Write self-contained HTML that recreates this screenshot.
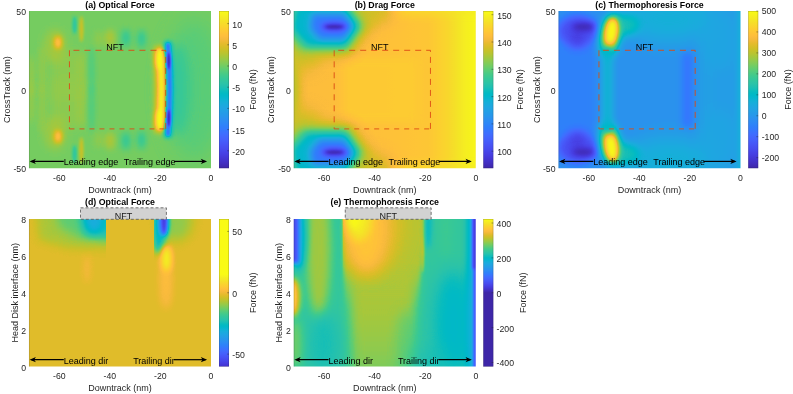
<!DOCTYPE html>
<html><head><meta charset="utf-8"><title>Forces</title>
<style>html,body{margin:0;padding:0;background:#fff;}body{width:793px;height:394px;overflow:hidden;font-family:"Liberation Sans",sans-serif;}</style>
</head><body>
<svg width="793" height="394" viewBox="0 0 793 394" style="display:block">
<defs>
<linearGradient id="cbfull" x1="0" y1="0" x2="0" y2="1">
<stop offset="0.0000" stop-color="#f9fb15"/>
<stop offset="0.0159" stop-color="#f7f51b"/>
<stop offset="0.0317" stop-color="#f6ef20"/>
<stop offset="0.0476" stop-color="#f5e924"/>
<stop offset="0.0635" stop-color="#f5e327"/>
<stop offset="0.0794" stop-color="#f7dc2a"/>
<stop offset="0.0952" stop-color="#fad62d"/>
<stop offset="0.1111" stop-color="#fccf30"/>
<stop offset="0.1270" stop-color="#fec934"/>
<stop offset="0.1429" stop-color="#fec338"/>
<stop offset="0.1587" stop-color="#febe3c"/>
<stop offset="0.1746" stop-color="#f8ba3d"/>
<stop offset="0.1905" stop-color="#f0ba36"/>
<stop offset="0.2063" stop-color="#e6bb2d"/>
<stop offset="0.2222" stop-color="#dcbd29"/>
<stop offset="0.2381" stop-color="#d1bf27"/>
<stop offset="0.2540" stop-color="#c5c22a"/>
<stop offset="0.2698" stop-color="#b9c431"/>
<stop offset="0.2857" stop-color="#abc739"/>
<stop offset="0.3016" stop-color="#9dc943"/>
<stop offset="0.3175" stop-color="#8fcb4e"/>
<stop offset="0.3333" stop-color="#81cc59"/>
<stop offset="0.3492" stop-color="#72cd64"/>
<stop offset="0.3651" stop-color="#64cd6f"/>
<stop offset="0.3810" stop-color="#57cc7a"/>
<stop offset="0.3968" stop-color="#4acb84"/>
<stop offset="0.4127" stop-color="#3fca8e"/>
<stop offset="0.4286" stop-color="#37c897"/>
<stop offset="0.4444" stop-color="#31c69f"/>
<stop offset="0.4603" stop-color="#2cc4a7"/>
<stop offset="0.4762" stop-color="#24c1ae"/>
<stop offset="0.4921" stop-color="#19bfb6"/>
<stop offset="0.5079" stop-color="#0bbdbd"/>
<stop offset="0.5238" stop-color="#02bac3"/>
<stop offset="0.5397" stop-color="#01b8ca"/>
<stop offset="0.5556" stop-color="#08b5d0"/>
<stop offset="0.5714" stop-color="#12b1d6"/>
<stop offset="0.5873" stop-color="#18addb"/>
<stop offset="0.6032" stop-color="#1ca9df"/>
<stop offset="0.6190" stop-color="#20a5e3"/>
<stop offset="0.6349" stop-color="#23a0e5"/>
<stop offset="0.6508" stop-color="#259be8"/>
<stop offset="0.6667" stop-color="#2797eb"/>
<stop offset="0.6825" stop-color="#2b91ef"/>
<stop offset="0.6984" stop-color="#2d8cf3"/>
<stop offset="0.7143" stop-color="#2e87f7"/>
<stop offset="0.7302" stop-color="#2f81fa"/>
<stop offset="0.7460" stop-color="#327cfc"/>
<stop offset="0.7619" stop-color="#3875fe"/>
<stop offset="0.7778" stop-color="#3e6fff"/>
<stop offset="0.7937" stop-color="#4269fe"/>
<stop offset="0.8095" stop-color="#4563fd"/>
<stop offset="0.8254" stop-color="#465efb"/>
<stop offset="0.8413" stop-color="#4758f8"/>
<stop offset="0.8571" stop-color="#4852f4"/>
<stop offset="0.8730" stop-color="#484df0"/>
<stop offset="0.8889" stop-color="#4747eb"/>
<stop offset="0.9048" stop-color="#4741e5"/>
<stop offset="0.9206" stop-color="#463cde"/>
<stop offset="0.9365" stop-color="#4537d5"/>
<stop offset="0.9524" stop-color="#4332cb"/>
<stop offset="0.9683" stop-color="#422ec0"/>
<stop offset="0.9841" stop-color="#402ab4"/>
<stop offset="1.0000" stop-color="#3e26a8"/>
</linearGradient>
<linearGradient id="cbd" x1="0" y1="0" x2="0" y2="1">
<stop offset="0.0000" stop-color="#f9fb15"/>
<stop offset="0.0125" stop-color="#f9fb15"/>
<stop offset="0.0250" stop-color="#f9fb15"/>
<stop offset="0.0375" stop-color="#f9fb15"/>
<stop offset="0.0500" stop-color="#f9fb15"/>
<stop offset="0.0625" stop-color="#f9fb15"/>
<stop offset="0.0750" stop-color="#f9fb15"/>
<stop offset="0.0875" stop-color="#f9fb15"/>
<stop offset="0.1000" stop-color="#f9fb15"/>
<stop offset="0.1125" stop-color="#f9fb15"/>
<stop offset="0.1250" stop-color="#f9fb15"/>
<stop offset="0.1375" stop-color="#f9fb15"/>
<stop offset="0.1500" stop-color="#f9fb15"/>
<stop offset="0.1625" stop-color="#f9fb15"/>
<stop offset="0.1750" stop-color="#f9fb15"/>
<stop offset="0.1875" stop-color="#f9fb15"/>
<stop offset="0.2000" stop-color="#f9fb15"/>
<stop offset="0.2125" stop-color="#f9fb15"/>
<stop offset="0.2250" stop-color="#f9fb15"/>
<stop offset="0.2375" stop-color="#f9fb15"/>
<stop offset="0.2500" stop-color="#f9fb15"/>
<stop offset="0.2625" stop-color="#f9fb15"/>
<stop offset="0.2750" stop-color="#f9fb15"/>
<stop offset="0.2875" stop-color="#f9fb15"/>
<stop offset="0.3000" stop-color="#f9fb15"/>
<stop offset="0.3125" stop-color="#f9fb15"/>
<stop offset="0.3250" stop-color="#f9fb15"/>
<stop offset="0.3375" stop-color="#f9fb15"/>
<stop offset="0.3500" stop-color="#f9fb15"/>
<stop offset="0.3625" stop-color="#f9fb15"/>
<stop offset="0.3750" stop-color="#f9fb15"/>
<stop offset="0.3875" stop-color="#f7f41c"/>
<stop offset="0.4000" stop-color="#f5ed21"/>
<stop offset="0.4125" stop-color="#f5e626"/>
<stop offset="0.4250" stop-color="#f6de29"/>
<stop offset="0.4375" stop-color="#f9d62d"/>
<stop offset="0.4500" stop-color="#fccf30"/>
<stop offset="0.4625" stop-color="#fec835"/>
<stop offset="0.4750" stop-color="#fec03a"/>
<stop offset="0.4875" stop-color="#fabb3d"/>
<stop offset="0.5000" stop-color="#f0ba36"/>
<stop offset="0.5125" stop-color="#e5bb2d"/>
<stop offset="0.5250" stop-color="#d9be28"/>
<stop offset="0.5375" stop-color="#cbc029"/>
<stop offset="0.5500" stop-color="#bdc42f"/>
<stop offset="0.5625" stop-color="#adc638"/>
<stop offset="0.5750" stop-color="#9cc944"/>
<stop offset="0.5875" stop-color="#8bcb51"/>
<stop offset="0.6000" stop-color="#79cc5e"/>
<stop offset="0.6125" stop-color="#68cd6b"/>
<stop offset="0.6250" stop-color="#58cc79"/>
<stop offset="0.6375" stop-color="#49cb85"/>
<stop offset="0.6500" stop-color="#3dc991"/>
<stop offset="0.6625" stop-color="#34c79b"/>
<stop offset="0.6750" stop-color="#2ec4a5"/>
<stop offset="0.6875" stop-color="#25c2ae"/>
<stop offset="0.7000" stop-color="#18bfb6"/>
<stop offset="0.7125" stop-color="#08bcbe"/>
<stop offset="0.7250" stop-color="#01b9c6"/>
<stop offset="0.7375" stop-color="#05b6ce"/>
<stop offset="0.7500" stop-color="#10b2d5"/>
<stop offset="0.7625" stop-color="#19addc"/>
<stop offset="0.7750" stop-color="#1da8e0"/>
<stop offset="0.7875" stop-color="#21a3e4"/>
<stop offset="0.8000" stop-color="#259de7"/>
<stop offset="0.8125" stop-color="#2797eb"/>
<stop offset="0.8250" stop-color="#2b91ef"/>
<stop offset="0.8375" stop-color="#2d8bf4"/>
<stop offset="0.8500" stop-color="#2e84f8"/>
<stop offset="0.8625" stop-color="#317efb"/>
<stop offset="0.8750" stop-color="#3776fe"/>
<stop offset="0.8875" stop-color="#3e6fff"/>
<stop offset="0.9000" stop-color="#4368fd"/>
<stop offset="0.9125" stop-color="#4661fc"/>
<stop offset="0.9250" stop-color="#475af9"/>
<stop offset="0.9375" stop-color="#4853f5"/>
<stop offset="0.9500" stop-color="#484cf0"/>
<stop offset="0.9625" stop-color="#4746ea"/>
<stop offset="0.9750" stop-color="#473fe2"/>
<stop offset="0.9875" stop-color="#4538d8"/>
<stop offset="1.0000" stop-color="#4433cc"/>
</linearGradient>
<linearGradient id="cbe" x1="0" y1="0" x2="0" y2="1">
<stop offset="0.0000" stop-color="#f9fb15"/>
<stop offset="0.0125" stop-color="#f6f21e"/>
<stop offset="0.0250" stop-color="#f5e825"/>
<stop offset="0.0375" stop-color="#f6de29"/>
<stop offset="0.0500" stop-color="#fad42e"/>
<stop offset="0.0625" stop-color="#feca33"/>
<stop offset="0.0750" stop-color="#fec13a"/>
<stop offset="0.0875" stop-color="#f8ba3d"/>
<stop offset="0.1000" stop-color="#eaba31"/>
<stop offset="0.1125" stop-color="#dabd28"/>
<stop offset="0.1250" stop-color="#c8c129"/>
<stop offset="0.1375" stop-color="#b4c533"/>
<stop offset="0.1500" stop-color="#9fc942"/>
<stop offset="0.1625" stop-color="#88cb53"/>
<stop offset="0.1750" stop-color="#71cd64"/>
<stop offset="0.1875" stop-color="#5ccc76"/>
<stop offset="0.2000" stop-color="#48cb86"/>
<stop offset="0.2125" stop-color="#39c895"/>
<stop offset="0.2250" stop-color="#2fc5a2"/>
<stop offset="0.2375" stop-color="#24c2ae"/>
<stop offset="0.2500" stop-color="#12beb9"/>
<stop offset="0.2625" stop-color="#02bac4"/>
<stop offset="0.2750" stop-color="#05b6ce"/>
<stop offset="0.2875" stop-color="#13b0d7"/>
<stop offset="0.3000" stop-color="#1caadf"/>
<stop offset="0.3125" stop-color="#21a3e3"/>
<stop offset="0.3250" stop-color="#259ce7"/>
<stop offset="0.3375" stop-color="#2994ed"/>
<stop offset="0.3500" stop-color="#2d8cf3"/>
<stop offset="0.3625" stop-color="#2e83f9"/>
<stop offset="0.3750" stop-color="#347afd"/>
<stop offset="0.3875" stop-color="#3d70ff"/>
<stop offset="0.4000" stop-color="#4367fd"/>
<stop offset="0.4125" stop-color="#465efb"/>
<stop offset="0.4250" stop-color="#4755f6"/>
<stop offset="0.4375" stop-color="#484cef"/>
<stop offset="0.4500" stop-color="#4743e7"/>
<stop offset="0.4625" stop-color="#463adc"/>
<stop offset="0.4750" stop-color="#4433cc"/>
<stop offset="0.4875" stop-color="#412dbb"/>
<stop offset="0.5000" stop-color="#3e26a8"/>
<stop offset="0.5125" stop-color="#3e26a8"/>
<stop offset="0.5250" stop-color="#3e26a8"/>
<stop offset="0.5375" stop-color="#3e26a8"/>
<stop offset="0.5500" stop-color="#3e26a8"/>
<stop offset="0.5625" stop-color="#3e26a8"/>
<stop offset="0.5750" stop-color="#3e26a8"/>
<stop offset="0.5875" stop-color="#3e26a8"/>
<stop offset="0.6000" stop-color="#3e26a8"/>
<stop offset="0.6125" stop-color="#3e26a8"/>
<stop offset="0.6250" stop-color="#3e26a8"/>
<stop offset="0.6375" stop-color="#3e26a8"/>
<stop offset="0.6500" stop-color="#3e26a8"/>
<stop offset="0.6625" stop-color="#3e26a8"/>
<stop offset="0.6750" stop-color="#3e26a8"/>
<stop offset="0.6875" stop-color="#3e26a8"/>
<stop offset="0.7000" stop-color="#3e26a8"/>
<stop offset="0.7125" stop-color="#3e26a8"/>
<stop offset="0.7250" stop-color="#3e26a8"/>
<stop offset="0.7375" stop-color="#3e26a8"/>
<stop offset="0.7500" stop-color="#3e26a8"/>
<stop offset="0.7625" stop-color="#3e26a8"/>
<stop offset="0.7750" stop-color="#3e26a8"/>
<stop offset="0.7875" stop-color="#3e26a8"/>
<stop offset="0.8000" stop-color="#3e26a8"/>
<stop offset="0.8125" stop-color="#3e26a8"/>
<stop offset="0.8250" stop-color="#3e26a8"/>
<stop offset="0.8375" stop-color="#3e26a8"/>
<stop offset="0.8500" stop-color="#3e26a8"/>
<stop offset="0.8625" stop-color="#3e26a8"/>
<stop offset="0.8750" stop-color="#3e26a8"/>
<stop offset="0.8875" stop-color="#3e26a8"/>
<stop offset="0.9000" stop-color="#3e26a8"/>
<stop offset="0.9125" stop-color="#3e26a8"/>
<stop offset="0.9250" stop-color="#3e26a8"/>
<stop offset="0.9375" stop-color="#3e26a8"/>
<stop offset="0.9500" stop-color="#3e26a8"/>
<stop offset="0.9625" stop-color="#3e26a8"/>
<stop offset="0.9750" stop-color="#3e26a8"/>
<stop offset="0.9875" stop-color="#3e26a8"/>
<stop offset="1.0000" stop-color="#3e26a8"/>
</linearGradient>
</defs>
<rect width="793" height="394" fill="#fff"/>
<g opacity="0.999">
<filter id="cma" filterUnits="userSpaceOnUse" x="28" y="10" width="185" height="161" color-interpolation-filters="sRGB"><feComponentTransfer><feFuncR type="table" tableValues="0.2422 0.2504 0.2578 0.2647 0.2706 0.2751 0.2783 0.2803 0.2813 0.2810 0.2795 0.2760 0.2699 0.2602 0.2440 0.2206 0.1963 0.1834 0.1786 0.1764 0.1687 0.1540 0.1460 0.1380 0.1248 0.1113 0.0952 0.0689 0.0297 0.0036 0.0067 0.0433 0.0964 0.1408 0.1717 0.1938 0.2161 0.2470 0.2906 0.3406 0.3909 0.4456 0.5044 0.5616 0.6174 0.6720 0.7242 0.7738 0.8203 0.8634 0.9035 0.9393 0.9728 0.9956 0.9970 0.9952 0.9892 0.9786 0.9676 0.9610 0.9597 0.9628 0.9691 0.9769"/><feFuncG type="table" tableValues="0.1504 0.1650 0.1818 0.1978 0.2147 0.2342 0.2559 0.2782 0.3006 0.3228 0.3447 0.3667 0.3892 0.4123 0.4358 0.4603 0.4847 0.5074 0.5289 0.5499 0.5703 0.5902 0.6091 0.6276 0.6459 0.6635 0.6798 0.6948 0.7082 0.7203 0.7312 0.7411 0.7500 0.7584 0.7670 0.7758 0.7843 0.7918 0.7973 0.8008 0.8029 0.8024 0.7993 0.7942 0.7876 0.7793 0.7698 0.7598 0.7498 0.7406 0.7330 0.7288 0.7298 0.7434 0.7659 0.7893 0.8136 0.8386 0.8639 0.8890 0.9135 0.9373 0.9606 0.9839"/><feFuncB type="table" tableValues="0.6603 0.7076 0.7511 0.7952 0.8364 0.8710 0.8991 0.9221 0.9414 0.9579 0.9717 0.9829 0.9906 0.9952 0.9988 0.9973 0.9892 0.9798 0.9682 0.9520 0.9359 0.9218 0.9079 0.8973 0.8883 0.8763 0.8598 0.8394 0.8163 0.7917 0.7660 0.7394 0.7120 0.6842 0.6554 0.6251 0.5923 0.5567 0.5188 0.4789 0.4354 0.3909 0.3480 0.3045 0.2612 0.2227 0.1910 0.1646 0.1535 0.1596 0.1774 0.2100 0.2394 0.2371 0.2199 0.2028 0.1885 0.1766 0.1643 0.1537 0.1423 0.1265 0.1064 0.0805"/></feComponentTransfer></filter>
<clipPath id="cpa"><rect x="29" y="11" width="182" height="157.2"/></clipPath>
<g clip-path="url(#cpa)"><g filter="url(#cma)">
<g transform="translate(29 11)">
<rect x="-20" y="-20" width="230" height="200" fill="#a7a7a7"/><ellipse cx="2.5" cy="66" rx="2" ry="22" fill="#bababa" filter="url(#b2_5)" opacity="0.6"/><ellipse cx="13" cy="60" rx="2.5" ry="26" fill="#bababa" filter="url(#b3)" opacity="0.6"/><rect x="22" y="40" width="34" height="50" fill="#b0b0b0" filter="url(#b4)" opacity="0.7"/><ellipse cx="26" cy="35" rx="11" ry="17" fill="#b8b8b8" filter="url(#b5)" opacity="0.7"/><ellipse cx="29" cy="31.5" rx="3.2" ry="6.5" fill="#ededed" filter="url(#b2_5)" opacity="0.85"/><ellipse cx="45.6" cy="14" rx="1.8" ry="9" fill="#808080" filter="url(#b1_8)" opacity="0.8"/><ellipse cx="52.4" cy="18" rx="1.8" ry="13" fill="#cccccc" filter="url(#b1_8)" opacity="0.8"/><ellipse cx="52" cy="62" rx="4" ry="20" fill="#b8b8b8" filter="url(#b3)" opacity="0.4"/><ellipse cx="62.5" cy="60" rx="3" ry="24" fill="#969696" filter="url(#b2_5)" opacity="0.7"/><ellipse cx="70" cy="28" rx="4" ry="8" fill="#b8b8b8" filter="url(#b3)" opacity="0.5"/><ellipse cx="81" cy="27" rx="4.5" ry="9" fill="#c2c2c2" filter="url(#b3)" opacity="0.65"/><ellipse cx="97" cy="27" rx="4" ry="9" fill="#858585" filter="url(#b3)" opacity="0.7"/><ellipse cx="112.5" cy="28" rx="4" ry="9" fill="#858585" filter="url(#b3)" opacity="0.7"/><g transform="translate(0 157) scale(1 -1)"><ellipse cx="2.5" cy="66" rx="2" ry="22" fill="#bababa" filter="url(#b2_5)" opacity="0.6"/><ellipse cx="13" cy="60" rx="2.5" ry="26" fill="#bababa" filter="url(#b3)" opacity="0.6"/><rect x="22" y="40" width="34" height="50" fill="#b0b0b0" filter="url(#b4)" opacity="0.7"/><ellipse cx="26" cy="35" rx="11" ry="17" fill="#b8b8b8" filter="url(#b5)" opacity="0.7"/><ellipse cx="29" cy="31.5" rx="3.2" ry="6.5" fill="#ededed" filter="url(#b2_5)" opacity="0.85"/><ellipse cx="45.6" cy="14" rx="1.8" ry="9" fill="#808080" filter="url(#b1_8)" opacity="0.8"/><ellipse cx="52.4" cy="18" rx="1.8" ry="13" fill="#cccccc" filter="url(#b1_8)" opacity="0.8"/><ellipse cx="52" cy="62" rx="4" ry="20" fill="#b8b8b8" filter="url(#b3)" opacity="0.4"/><ellipse cx="62.5" cy="60" rx="3" ry="24" fill="#969696" filter="url(#b2_5)" opacity="0.7"/><ellipse cx="70" cy="28" rx="4" ry="8" fill="#b8b8b8" filter="url(#b3)" opacity="0.5"/><ellipse cx="81" cy="27" rx="4.5" ry="9" fill="#c2c2c2" filter="url(#b3)" opacity="0.65"/><ellipse cx="97" cy="27" rx="4" ry="9" fill="#858585" filter="url(#b3)" opacity="0.7"/><ellipse cx="112.5" cy="28" rx="4" ry="9" fill="#858585" filter="url(#b3)" opacity="0.7"/></g><ellipse cx="165" cy="78.5" rx="28" ry="70" fill="#999999" filter="url(#b10)" opacity="0.6"/><ellipse cx="149" cy="78.5" rx="10" ry="46" fill="#878787" filter="url(#b6)" opacity="0.6"/><path d="M131 41 Q135 78.5 131 116" fill="none" stroke="#f2f2f2" stroke-width="10" stroke-linecap="round" filter="url(#b3)" opacity="0.9"/><path d="M131 41 Q135 78.5 131 116" fill="none" stroke="#f7f7f7" stroke-width="5" stroke-linecap="round" filter="url(#b1_5)"/><ellipse cx="131.3" cy="50" rx="3.8" ry="9" fill="#ffffff" filter="url(#b2)" opacity="0.95"/><ellipse cx="131.3" cy="107" rx="3.8" ry="9" fill="#ffffff" filter="url(#b2)" opacity="0.95"/><path d="M139 34 Q142.5 78.5 139 123" fill="none" stroke="#616161" stroke-width="7" stroke-linecap="round" filter="url(#b2)" opacity="0.9"/><path d="M139 34 Q142.5 78.5 139 123" fill="none" stroke="#3d3d3d" stroke-width="3.6" stroke-linecap="round" filter="url(#b1_2)"/><ellipse cx="139.8" cy="50" rx="1.7" ry="9" fill="#000000" filter="url(#b1_2)"/><ellipse cx="139.8" cy="107" rx="1.7" ry="9" fill="#000000" filter="url(#b1_2)"/>
</g></g></g>
<path d="M29.4 11V168.2" fill="none" stroke="#262626" stroke-width="0.6" stroke-opacity="0.3"/>
<rect x="219" y="11" width="10" height="157.2" fill="url(#cbfull)"/>
<rect x="219.25" y="11.25" width="9.5" height="156.7" fill="none" stroke="#262626" stroke-width="0.5" stroke-opacity="0.35"/>
<text x="120.0" y="8.2" font-family="Liberation Sans, sans-serif" font-size="8.8" font-weight="bold" text-anchor="middle" fill="#000">(a) Optical Force</text>
<text x="120.0" y="192.7" font-family="Liberation Sans, sans-serif" font-size="9" text-anchor="middle" fill="#262626">Downtrack (nm)</text>
<text x="59.3" y="181.0" font-family="Liberation Sans, sans-serif" font-size="8.7" text-anchor="middle" fill="#262626">-60</text>
<text x="109.9" y="181.0" font-family="Liberation Sans, sans-serif" font-size="8.7" text-anchor="middle" fill="#262626">-40</text>
<text x="160.4" y="181.0" font-family="Liberation Sans, sans-serif" font-size="8.7" text-anchor="middle" fill="#262626">-20</text>
<text x="211.0" y="181.0" font-family="Liberation Sans, sans-serif" font-size="8.7" text-anchor="middle" fill="#262626">0</text>
<text x="26" y="15.2" font-family="Liberation Sans, sans-serif" font-size="8.7" text-anchor="end" fill="#262626">50</text>
<text x="26" y="93.8" font-family="Liberation Sans, sans-serif" font-size="8.7" text-anchor="end" fill="#262626">0</text>
<text x="26" y="172.4" font-family="Liberation Sans, sans-serif" font-size="8.7" text-anchor="end" fill="#262626">-50</text>
<text x="232.3" y="27.5" font-family="Liberation Sans, sans-serif" font-size="8.7" fill="#262626">10</text>
<path d="M227.2 23.6H229" stroke="#262626" stroke-width="0.6" stroke-opacity="0.7"/>
<text x="232.3" y="48.7" font-family="Liberation Sans, sans-serif" font-size="8.7" fill="#262626">5</text>
<path d="M227.2 44.8H229" stroke="#262626" stroke-width="0.6" stroke-opacity="0.7"/>
<text x="232.3" y="69.9" font-family="Liberation Sans, sans-serif" font-size="8.7" fill="#262626">0</text>
<path d="M227.2 66.0H229" stroke="#262626" stroke-width="0.6" stroke-opacity="0.7"/>
<text x="232.3" y="91.1" font-family="Liberation Sans, sans-serif" font-size="8.7" fill="#262626">-5</text>
<path d="M227.2 87.2H229" stroke="#262626" stroke-width="0.6" stroke-opacity="0.7"/>
<text x="232.3" y="112.3" font-family="Liberation Sans, sans-serif" font-size="8.7" fill="#262626">-10</text>
<path d="M227.2 108.4H229" stroke="#262626" stroke-width="0.6" stroke-opacity="0.7"/>
<text x="232.3" y="133.5" font-family="Liberation Sans, sans-serif" font-size="8.7" fill="#262626">-15</text>
<path d="M227.2 129.6H229" stroke="#262626" stroke-width="0.6" stroke-opacity="0.7"/>
<text x="232.3" y="154.7" font-family="Liberation Sans, sans-serif" font-size="8.7" fill="#262626">-20</text>
<path d="M227.2 150.8H229" stroke="#262626" stroke-width="0.6" stroke-opacity="0.7"/>
<text transform="translate(9.5 89.6) rotate(-90)" font-family="Liberation Sans, sans-serif" font-size="9" text-anchor="middle" fill="#262626">CrossTrack (nm)</text>
<text transform="translate(255.8 89.6) rotate(-90)" font-family="Liberation Sans, sans-serif" font-size="9" text-anchor="middle" fill="#262626">Force (fN)</text>
<path d="M69.44 50.30H165.70" fill="none" stroke="#dc4a14" stroke-width="0.9" stroke-dasharray="6 5" stroke-dashoffset="7"/><path d="M69.44 50.30V128.90" fill="none" stroke="#dc4a14" stroke-width="0.9" stroke-dasharray="6 5"/><path d="M69.44 128.90H165.70" fill="none" stroke="#dc4a14" stroke-width="0.9" stroke-dasharray="5 5"/><path d="M165.70 128.90V50.30" fill="none" stroke="#dc4a14" stroke-width="0.9" stroke-dasharray="6 5"/><text x="106.2" y="50.1" font-family="Liberation Sans, sans-serif" font-size="9" fill="#000">NFT</text>
<path d="M31.5 161.4H63.8" stroke="#000" stroke-width="1.2" fill="none"/>
<path d="M29.6 161.4l6.3 -2.6l-1.7 2.6l1.7 2.6z" fill="#000"/>
<path d="M174 161.4H205.5" stroke="#000" stroke-width="1.2" fill="none"/>
<path d="M207.1 161.4l-6.3 -2.6l1.7 2.6l-1.7 2.6z" fill="#000"/>
<text x="63.8" y="165.20000000000002" font-family="Liberation Sans, sans-serif" font-size="9" fill="#000">Leading edge</text>
<text x="123.8" y="165.20000000000002" font-family="Liberation Sans, sans-serif" font-size="9" fill="#000">Trailing edge</text>
<filter id="cmb" filterUnits="userSpaceOnUse" x="292" y="10" width="185" height="161" color-interpolation-filters="sRGB"><feComponentTransfer><feFuncR type="table" tableValues="0.2422 0.2504 0.2578 0.2647 0.2706 0.2751 0.2783 0.2803 0.2813 0.2810 0.2795 0.2760 0.2699 0.2602 0.2440 0.2206 0.1963 0.1834 0.1786 0.1764 0.1687 0.1540 0.1460 0.1380 0.1248 0.1113 0.0952 0.0689 0.0297 0.0036 0.0067 0.0433 0.0964 0.1408 0.1717 0.1938 0.2161 0.2470 0.2906 0.3406 0.3909 0.4456 0.5044 0.5616 0.6174 0.6720 0.7242 0.7738 0.8203 0.8634 0.9035 0.9393 0.9728 0.9956 0.9970 0.9952 0.9892 0.9786 0.9676 0.9610 0.9597 0.9628 0.9691 0.9769"/><feFuncG type="table" tableValues="0.1504 0.1650 0.1818 0.1978 0.2147 0.2342 0.2559 0.2782 0.3006 0.3228 0.3447 0.3667 0.3892 0.4123 0.4358 0.4603 0.4847 0.5074 0.5289 0.5499 0.5703 0.5902 0.6091 0.6276 0.6459 0.6635 0.6798 0.6948 0.7082 0.7203 0.7312 0.7411 0.7500 0.7584 0.7670 0.7758 0.7843 0.7918 0.7973 0.8008 0.8029 0.8024 0.7993 0.7942 0.7876 0.7793 0.7698 0.7598 0.7498 0.7406 0.7330 0.7288 0.7298 0.7434 0.7659 0.7893 0.8136 0.8386 0.8639 0.8890 0.9135 0.9373 0.9606 0.9839"/><feFuncB type="table" tableValues="0.6603 0.7076 0.7511 0.7952 0.8364 0.8710 0.8991 0.9221 0.9414 0.9579 0.9717 0.9829 0.9906 0.9952 0.9988 0.9973 0.9892 0.9798 0.9682 0.9520 0.9359 0.9218 0.9079 0.8973 0.8883 0.8763 0.8598 0.8394 0.8163 0.7917 0.7660 0.7394 0.7120 0.6842 0.6554 0.6251 0.5923 0.5567 0.5188 0.4789 0.4354 0.3909 0.3480 0.3045 0.2612 0.2227 0.1910 0.1646 0.1535 0.1596 0.1774 0.2100 0.2394 0.2371 0.2199 0.2028 0.1885 0.1766 0.1643 0.1537 0.1423 0.1265 0.1064 0.0805"/></feComponentTransfer></filter>
<clipPath id="cpb"><rect x="293.75" y="11" width="182" height="157.2"/></clipPath>
<g clip-path="url(#cpb)"><g filter="url(#cmb)">
<g transform="translate(293.75 11)">
<linearGradient id="lg1" x1="0" y1="0" x2="1" y2="0"><stop offset="0" stop-color="#d1d1d1"/><stop offset="0.08" stop-color="#d6d6d6"/><stop offset="0.5" stop-color="#d9d9d9"/><stop offset="0.74" stop-color="#dddddd"/><stop offset="0.85" stop-color="#e8e8e8"/><stop offset="0.94" stop-color="#f6f6f6"/><stop offset="1" stop-color="#fcfcfc"/></linearGradient><rect x="-20" y="-20" width="230" height="200" fill="#dedede"/><rect x="0" y="-20" width="182" height="200" fill="url(#lg1)"/><ellipse cx="-3" cy="78.5" rx="8" ry="32" fill="#b2b2b2" filter="url(#b4)" opacity="0.8"/><rect x="50" y="46" width="76" height="66" fill="#e2e2e2" filter="url(#b5)" opacity="0.75"/><rect x="95" y="-8" width="100" height="12" fill="#f2f2f2" filter="url(#b5)" opacity="0.6"/><rect x="95" y="153" width="100" height="12" fill="#f2f2f2" filter="url(#b5)" opacity="0.6"/><ellipse cx="72" cy="-4" rx="30" ry="20" fill="#bdbdbd" filter="url(#b8)" opacity="0.8"/><ellipse cx="8" cy="44" rx="20" ry="16" fill="#bdbdbd" filter="url(#b8)" opacity="0.75"/><path d="M77.4 14.3 L57.0 44.9 L-0.8 44.9 L-22.9 19.4 L-17.8 -14.6 L57.0 -14.6Z" fill="#bababa" filter="url(#b7)" opacity="0.95"/><path d="M69.7 14.7 L53.5 39.0 L7.6 39.0 L-10.0 18.7 L-5.9 -8.3 L53.5 -8.3Z" fill="#999999" filter="url(#b4_5)"/><path d="M64.2 14.9 L51.0 34.7 L13.6 34.7 L-0.7 18.2 L2.6 -3.8 L51.0 -3.8Z" fill="#737373" filter="url(#b3_5)"/><path d="M58.8 15.3 L50.2 28.2 L25.7 28.2 L16.4 17.4 L18.5 3.0 L50.2 3.0Z" fill="#404040" filter="url(#b3)"/><ellipse cx="40.5" cy="15.8" rx="13" ry="4.5" fill="#1a1a1a" filter="url(#b2_5)"/><ellipse cx="40.5" cy="15.8" rx="9" ry="1.8" fill="#000000" filter="url(#b1_5)"/><g transform="translate(0 157) scale(1 -1)"><ellipse cx="72" cy="-4" rx="30" ry="20" fill="#bdbdbd" filter="url(#b8)" opacity="0.8"/><ellipse cx="8" cy="44" rx="20" ry="16" fill="#bdbdbd" filter="url(#b8)" opacity="0.75"/><path d="M77.4 14.3 L57.0 44.9 L-0.8 44.9 L-22.9 19.4 L-17.8 -14.6 L57.0 -14.6Z" fill="#bababa" filter="url(#b7)" opacity="0.95"/><path d="M69.7 14.7 L53.5 39.0 L7.6 39.0 L-10.0 18.7 L-5.9 -8.3 L53.5 -8.3Z" fill="#999999" filter="url(#b4_5)"/><path d="M64.2 14.9 L51.0 34.7 L13.6 34.7 L-0.7 18.2 L2.6 -3.8 L51.0 -3.8Z" fill="#737373" filter="url(#b3_5)"/><path d="M58.8 15.3 L50.2 28.2 L25.7 28.2 L16.4 17.4 L18.5 3.0 L50.2 3.0Z" fill="#404040" filter="url(#b3)"/><ellipse cx="40.5" cy="15.8" rx="13" ry="4.5" fill="#1a1a1a" filter="url(#b2_5)"/><ellipse cx="40.5" cy="15.8" rx="9" ry="1.8" fill="#000000" filter="url(#b1_5)"/></g>
</g></g></g>
<path d="M294.15 11V168.2" fill="none" stroke="#262626" stroke-width="0.6" stroke-opacity="0.3"/>
<rect x="483.3" y="11" width="10" height="157.2" fill="url(#cbfull)"/>
<rect x="483.55" y="11.25" width="9.5" height="156.7" fill="none" stroke="#262626" stroke-width="0.5" stroke-opacity="0.35"/>
<text x="384.75" y="8.2" font-family="Liberation Sans, sans-serif" font-size="8.8" font-weight="bold" text-anchor="middle" fill="#000">(b) Drag Force</text>
<text x="384.75" y="192.7" font-family="Liberation Sans, sans-serif" font-size="9" text-anchor="middle" fill="#262626">Downtrack (nm)</text>
<text x="324.1" y="181.0" font-family="Liberation Sans, sans-serif" font-size="8.7" text-anchor="middle" fill="#262626">-60</text>
<text x="374.6" y="181.0" font-family="Liberation Sans, sans-serif" font-size="8.7" text-anchor="middle" fill="#262626">-40</text>
<text x="425.2" y="181.0" font-family="Liberation Sans, sans-serif" font-size="8.7" text-anchor="middle" fill="#262626">-20</text>
<text x="475.8" y="181.0" font-family="Liberation Sans, sans-serif" font-size="8.7" text-anchor="middle" fill="#262626">0</text>
<text x="290.75" y="15.2" font-family="Liberation Sans, sans-serif" font-size="8.7" text-anchor="end" fill="#262626">50</text>
<text x="290.75" y="93.8" font-family="Liberation Sans, sans-serif" font-size="8.7" text-anchor="end" fill="#262626">0</text>
<text x="290.75" y="172.4" font-family="Liberation Sans, sans-serif" font-size="8.7" text-anchor="end" fill="#262626">-50</text>
<text x="497.2" y="18.6" font-family="Liberation Sans, sans-serif" font-size="8.7" fill="#262626">150</text>
<path d="M491.5 14.7H493.3" stroke="#262626" stroke-width="0.6" stroke-opacity="0.7"/>
<text x="497.2" y="45.9" font-family="Liberation Sans, sans-serif" font-size="8.7" fill="#262626">140</text>
<path d="M491.5 42.0H493.3" stroke="#262626" stroke-width="0.6" stroke-opacity="0.7"/>
<text x="497.2" y="73.2" font-family="Liberation Sans, sans-serif" font-size="8.7" fill="#262626">130</text>
<path d="M491.5 69.3H493.3" stroke="#262626" stroke-width="0.6" stroke-opacity="0.7"/>
<text x="497.2" y="100.5" font-family="Liberation Sans, sans-serif" font-size="8.7" fill="#262626">120</text>
<path d="M491.5 96.6H493.3" stroke="#262626" stroke-width="0.6" stroke-opacity="0.7"/>
<text x="497.2" y="127.8" font-family="Liberation Sans, sans-serif" font-size="8.7" fill="#262626">110</text>
<path d="M491.5 123.9H493.3" stroke="#262626" stroke-width="0.6" stroke-opacity="0.7"/>
<text x="497.2" y="155.1" font-family="Liberation Sans, sans-serif" font-size="8.7" fill="#262626">100</text>
<path d="M491.5 151.2H493.3" stroke="#262626" stroke-width="0.6" stroke-opacity="0.7"/>
<text transform="translate(273.5 89.6) rotate(-90)" font-family="Liberation Sans, sans-serif" font-size="9" text-anchor="middle" fill="#262626">CrossTrack (nm)</text>
<text transform="translate(523 89.6) rotate(-90)" font-family="Liberation Sans, sans-serif" font-size="9" text-anchor="middle" fill="#262626">Force (fN)</text>
<path d="M334.19 50.30H430.45" fill="none" stroke="#dc4a14" stroke-width="0.9" stroke-dasharray="6 5" stroke-dashoffset="7"/><path d="M334.19 50.30V128.90" fill="none" stroke="#dc4a14" stroke-width="0.9" stroke-dasharray="6 5"/><path d="M334.19 128.90H430.45" fill="none" stroke="#dc4a14" stroke-width="0.9" stroke-dasharray="5 5"/><path d="M430.45 128.90V50.30" fill="none" stroke="#dc4a14" stroke-width="0.9" stroke-dasharray="6 5"/><text x="370.95" y="50.1" font-family="Liberation Sans, sans-serif" font-size="9" fill="#000">NFT</text>
<path d="M296.25 161.4H328.55" stroke="#000" stroke-width="1.2" fill="none"/>
<path d="M294.35 161.4l6.3 -2.6l-1.7 2.6l1.7 2.6z" fill="#000"/>
<path d="M438.75 161.4H470.25" stroke="#000" stroke-width="1.2" fill="none"/>
<path d="M471.85 161.4l-6.3 -2.6l1.7 2.6l-1.7 2.6z" fill="#000"/>
<text x="328.55" y="165.20000000000002" font-family="Liberation Sans, sans-serif" font-size="9" fill="#000">Leading edge</text>
<text x="388.55" y="165.20000000000002" font-family="Liberation Sans, sans-serif" font-size="9" fill="#000">Trailing edge</text>
<filter id="cmc" filterUnits="userSpaceOnUse" x="557" y="10" width="185" height="161" color-interpolation-filters="sRGB"><feComponentTransfer><feFuncR type="table" tableValues="0.2422 0.2504 0.2578 0.2647 0.2706 0.2751 0.2783 0.2803 0.2813 0.2810 0.2795 0.2760 0.2699 0.2602 0.2440 0.2206 0.1963 0.1834 0.1786 0.1764 0.1687 0.1540 0.1460 0.1380 0.1248 0.1113 0.0952 0.0689 0.0297 0.0036 0.0067 0.0433 0.0964 0.1408 0.1717 0.1938 0.2161 0.2470 0.2906 0.3406 0.3909 0.4456 0.5044 0.5616 0.6174 0.6720 0.7242 0.7738 0.8203 0.8634 0.9035 0.9393 0.9728 0.9956 0.9970 0.9952 0.9892 0.9786 0.9676 0.9610 0.9597 0.9628 0.9691 0.9769"/><feFuncG type="table" tableValues="0.1504 0.1650 0.1818 0.1978 0.2147 0.2342 0.2559 0.2782 0.3006 0.3228 0.3447 0.3667 0.3892 0.4123 0.4358 0.4603 0.4847 0.5074 0.5289 0.5499 0.5703 0.5902 0.6091 0.6276 0.6459 0.6635 0.6798 0.6948 0.7082 0.7203 0.7312 0.7411 0.7500 0.7584 0.7670 0.7758 0.7843 0.7918 0.7973 0.8008 0.8029 0.8024 0.7993 0.7942 0.7876 0.7793 0.7698 0.7598 0.7498 0.7406 0.7330 0.7288 0.7298 0.7434 0.7659 0.7893 0.8136 0.8386 0.8639 0.8890 0.9135 0.9373 0.9606 0.9839"/><feFuncB type="table" tableValues="0.6603 0.7076 0.7511 0.7952 0.8364 0.8710 0.8991 0.9221 0.9414 0.9579 0.9717 0.9829 0.9906 0.9952 0.9988 0.9973 0.9892 0.9798 0.9682 0.9520 0.9359 0.9218 0.9079 0.8973 0.8883 0.8763 0.8598 0.8394 0.8163 0.7917 0.7660 0.7394 0.7120 0.6842 0.6554 0.6251 0.5923 0.5567 0.5188 0.4789 0.4354 0.3909 0.3480 0.3045 0.2612 0.2227 0.1910 0.1646 0.1535 0.1596 0.1774 0.2100 0.2394 0.2371 0.2199 0.2028 0.1885 0.1766 0.1643 0.1537 0.1423 0.1265 0.1064 0.0805"/></feComponentTransfer></filter>
<clipPath id="cpc"><rect x="558.5" y="11" width="182" height="157.2"/></clipPath>
<g clip-path="url(#cpc)"><g filter="url(#cmc)">
<g transform="translate(558.5 11)">
<rect x="-20" y="-20" width="230" height="200" fill="#525252"/><rect x="139" y="-10" width="60" height="180" fill="#5d5d5d" filter="url(#b3)" opacity="0.9"/><rect x="178.5" y="-10" width="10" height="180" fill="#707070" filter="url(#b2)" opacity="0.8"/><rect x="-8" y="34" width="46" height="90" fill="#444444" filter="url(#b5)" opacity="0.9"/><ellipse cx="110" cy="8" rx="45" ry="24" fill="#6e6e6e" filter="url(#b10)" opacity="0.9"/><ellipse cx="160" cy="30" rx="18" ry="30" fill="#666666" filter="url(#b8)" opacity="0.6"/><ellipse cx="19" cy="20" rx="21" ry="16" fill="#212121" filter="url(#b5)" opacity="0.95"/><ellipse cx="19" cy="27" rx="7" ry="9" fill="#141414" filter="url(#b4)" opacity="0.8"/><ellipse cx="25" cy="15.8" rx="12" ry="4" fill="#000000" filter="url(#b3)"/><ellipse cx="66" cy="14" rx="15" ry="11" fill="#858585" filter="url(#b5)" opacity="0.9"/><ellipse cx="52" cy="24" rx="11" ry="23" fill="#8c8c8c" filter="url(#b4)" opacity="0.95" transform="rotate(10 52 24)"/><ellipse cx="52.3" cy="23" rx="7" ry="16" fill="#e6e6e6" filter="url(#b3)" transform="rotate(8 52.3 23)"/><ellipse cx="53.2" cy="20" rx="4.6" ry="12" fill="#ffffff" filter="url(#b2_5)" transform="rotate(8 53.2 20)"/><g transform="translate(0 157) scale(1 -1)"><ellipse cx="110" cy="8" rx="45" ry="24" fill="#6e6e6e" filter="url(#b10)" opacity="0.9"/><ellipse cx="160" cy="30" rx="18" ry="30" fill="#666666" filter="url(#b8)" opacity="0.6"/><ellipse cx="19" cy="20" rx="21" ry="16" fill="#212121" filter="url(#b5)" opacity="0.95"/><ellipse cx="19" cy="27" rx="7" ry="9" fill="#141414" filter="url(#b4)" opacity="0.8"/><ellipse cx="25" cy="15.8" rx="12" ry="4" fill="#000000" filter="url(#b3)"/><ellipse cx="66" cy="14" rx="15" ry="11" fill="#858585" filter="url(#b5)" opacity="0.9"/><ellipse cx="52" cy="24" rx="11" ry="23" fill="#8c8c8c" filter="url(#b4)" opacity="0.95" transform="rotate(10 52 24)"/><ellipse cx="52.3" cy="23" rx="7" ry="16" fill="#e6e6e6" filter="url(#b3)" transform="rotate(8 52.3 23)"/><ellipse cx="53.2" cy="20" rx="4.6" ry="12" fill="#ffffff" filter="url(#b2_5)" transform="rotate(8 53.2 20)"/></g><rect x="43.5" y="36" width="11" height="86" fill="#737373" filter="url(#b3)" opacity="0.9"/><rect x="123.5" y="42" width="11" height="74" fill="#3d3d3d" filter="url(#b3)" opacity="0.95"/><rect x="149" y="20" width="5" height="117" fill="#666666" filter="url(#b4)" opacity="0.5"/>
</g></g></g>
<path d="M558.9 11V168.2" fill="none" stroke="#262626" stroke-width="0.6" stroke-opacity="0.3"/>
<rect x="748.2" y="11" width="10" height="157.2" fill="url(#cbfull)"/>
<rect x="748.45" y="11.25" width="9.5" height="156.7" fill="none" stroke="#262626" stroke-width="0.5" stroke-opacity="0.35"/>
<text x="649.5" y="8.2" font-family="Liberation Sans, sans-serif" font-size="8.8" font-weight="bold" text-anchor="middle" fill="#000">(c) Thermophoresis Force</text>
<text x="649.5" y="192.7" font-family="Liberation Sans, sans-serif" font-size="9" text-anchor="middle" fill="#262626">Downtrack (nm)</text>
<text x="588.8" y="181.0" font-family="Liberation Sans, sans-serif" font-size="8.7" text-anchor="middle" fill="#262626">-60</text>
<text x="639.4" y="181.0" font-family="Liberation Sans, sans-serif" font-size="8.7" text-anchor="middle" fill="#262626">-40</text>
<text x="689.9" y="181.0" font-family="Liberation Sans, sans-serif" font-size="8.7" text-anchor="middle" fill="#262626">-20</text>
<text x="740.5" y="181.0" font-family="Liberation Sans, sans-serif" font-size="8.7" text-anchor="middle" fill="#262626">0</text>
<text x="555.5" y="15.2" font-family="Liberation Sans, sans-serif" font-size="8.7" text-anchor="end" fill="#262626">50</text>
<text x="555.5" y="93.8" font-family="Liberation Sans, sans-serif" font-size="8.7" text-anchor="end" fill="#262626">0</text>
<text x="555.5" y="172.4" font-family="Liberation Sans, sans-serif" font-size="8.7" text-anchor="end" fill="#262626">-50</text>
<text x="761.7" y="14.4" font-family="Liberation Sans, sans-serif" font-size="8.7" fill="#262626">500</text>
<path d="M756.4000000000001 11H758.2" stroke="#262626" stroke-width="0.6" stroke-opacity="0.7"/>
<text x="761.7" y="35.4" font-family="Liberation Sans, sans-serif" font-size="8.7" fill="#262626">400</text>
<path d="M756.4000000000001 31.95H758.2" stroke="#262626" stroke-width="0.6" stroke-opacity="0.7"/>
<text x="761.7" y="56.3" font-family="Liberation Sans, sans-serif" font-size="8.7" fill="#262626">300</text>
<path d="M756.4000000000001 52.9H758.2" stroke="#262626" stroke-width="0.6" stroke-opacity="0.7"/>
<text x="761.7" y="77.2" font-family="Liberation Sans, sans-serif" font-size="8.7" fill="#262626">200</text>
<path d="M756.4000000000001 73.85H758.2" stroke="#262626" stroke-width="0.6" stroke-opacity="0.7"/>
<text x="761.7" y="98.2" font-family="Liberation Sans, sans-serif" font-size="8.7" fill="#262626">100</text>
<path d="M756.4000000000001 94.8H758.2" stroke="#262626" stroke-width="0.6" stroke-opacity="0.7"/>
<text x="761.7" y="119.2" font-family="Liberation Sans, sans-serif" font-size="8.7" fill="#262626">0</text>
<path d="M756.4000000000001 115.75H758.2" stroke="#262626" stroke-width="0.6" stroke-opacity="0.7"/>
<text x="761.7" y="140.1" font-family="Liberation Sans, sans-serif" font-size="8.7" fill="#262626">-100</text>
<path d="M756.4000000000001 136.7H758.2" stroke="#262626" stroke-width="0.6" stroke-opacity="0.7"/>
<text x="761.7" y="161.1" font-family="Liberation Sans, sans-serif" font-size="8.7" fill="#262626">-200</text>
<path d="M756.4000000000001 157.65H758.2" stroke="#262626" stroke-width="0.6" stroke-opacity="0.7"/>
<text transform="translate(540 89.6) rotate(-90)" font-family="Liberation Sans, sans-serif" font-size="9" text-anchor="middle" fill="#262626">CrossTrack (nm)</text>
<text transform="translate(790.5 89.6) rotate(-90)" font-family="Liberation Sans, sans-serif" font-size="9" text-anchor="middle" fill="#262626">Force (fN)</text>
<path d="M598.94 50.30H695.20" fill="none" stroke="#dc4a14" stroke-width="0.9" stroke-dasharray="6 5" stroke-dashoffset="7"/><path d="M598.94 50.30V128.90" fill="none" stroke="#dc4a14" stroke-width="0.9" stroke-dasharray="6 5"/><path d="M598.94 128.90H695.20" fill="none" stroke="#dc4a14" stroke-width="0.9" stroke-dasharray="5 5"/><path d="M695.20 128.90V50.30" fill="none" stroke="#dc4a14" stroke-width="0.9" stroke-dasharray="6 5"/><text x="635.7" y="50.1" font-family="Liberation Sans, sans-serif" font-size="9" fill="#000">NFT</text>
<path d="M561.0 161.4H593.3" stroke="#000" stroke-width="1.2" fill="none"/>
<path d="M559.1 161.4l6.3 -2.6l-1.7 2.6l1.7 2.6z" fill="#000"/>
<path d="M703.5 161.4H735.0" stroke="#000" stroke-width="1.2" fill="none"/>
<path d="M736.6 161.4l-6.3 -2.6l1.7 2.6l-1.7 2.6z" fill="#000"/>
<text x="593.3" y="165.20000000000002" font-family="Liberation Sans, sans-serif" font-size="9" fill="#000">Leading edge</text>
<text x="653.3" y="165.20000000000002" font-family="Liberation Sans, sans-serif" font-size="9" fill="#000">Trailing edge</text>
<filter id="cmd" filterUnits="userSpaceOnUse" x="28" y="218" width="185" height="151" color-interpolation-filters="sRGB"><feComponentTransfer><feFuncR type="table" tableValues="0.2422 0.2504 0.2578 0.2647 0.2706 0.2751 0.2783 0.2803 0.2813 0.2810 0.2795 0.2760 0.2699 0.2602 0.2440 0.2206 0.1963 0.1834 0.1786 0.1764 0.1687 0.1540 0.1460 0.1380 0.1248 0.1113 0.0952 0.0689 0.0297 0.0036 0.0067 0.0433 0.0964 0.1408 0.1717 0.1938 0.2161 0.2470 0.2906 0.3406 0.3909 0.4456 0.5044 0.5616 0.6174 0.6720 0.7242 0.7738 0.8203 0.8634 0.9035 0.9393 0.9728 0.9956 0.9970 0.9952 0.9892 0.9786 0.9676 0.9610 0.9597 0.9628 0.9691 0.9769"/><feFuncG type="table" tableValues="0.1504 0.1650 0.1818 0.1978 0.2147 0.2342 0.2559 0.2782 0.3006 0.3228 0.3447 0.3667 0.3892 0.4123 0.4358 0.4603 0.4847 0.5074 0.5289 0.5499 0.5703 0.5902 0.6091 0.6276 0.6459 0.6635 0.6798 0.6948 0.7082 0.7203 0.7312 0.7411 0.7500 0.7584 0.7670 0.7758 0.7843 0.7918 0.7973 0.8008 0.8029 0.8024 0.7993 0.7942 0.7876 0.7793 0.7698 0.7598 0.7498 0.7406 0.7330 0.7288 0.7298 0.7434 0.7659 0.7893 0.8136 0.8386 0.8639 0.8890 0.9135 0.9373 0.9606 0.9839"/><feFuncB type="table" tableValues="0.6603 0.7076 0.7511 0.7952 0.8364 0.8710 0.8991 0.9221 0.9414 0.9579 0.9717 0.9829 0.9906 0.9952 0.9988 0.9973 0.9892 0.9798 0.9682 0.9520 0.9359 0.9218 0.9079 0.8973 0.8883 0.8763 0.8598 0.8394 0.8163 0.7917 0.7660 0.7394 0.7120 0.6842 0.6554 0.6251 0.5923 0.5567 0.5188 0.4789 0.4354 0.3909 0.3480 0.3045 0.2612 0.2227 0.1910 0.1646 0.1535 0.1596 0.1774 0.2100 0.2394 0.2371 0.2199 0.2028 0.1885 0.1766 0.1643 0.1537 0.1423 0.1265 0.1064 0.0805"/></feComponentTransfer></filter>
<clipPath id="cpd"><rect x="29" y="219" width="182" height="147.5"/></clipPath>
<g clip-path="url(#cpd)"><g filter="url(#cmd)">
<g transform="translate(29 219)">
<rect x="-20" y="-20" width="230" height="200" fill="#c8c8c8"/><clipPath id="dclipL"><rect x="-20" y="-20" width="97" height="200"/></clipPath><g clip-path="url(#dclipL)"><path d="M6 -14 L95 -14 L95 30 L40 29 L10 21Z" fill="#b5b5b5" filter="url(#b5)" opacity="0.95"/><path d="M26 -14 L95 -14 L95 21 L50 19 L30 8Z" fill="#9e9e9e" filter="url(#b5)" opacity="0.9"/><path d="M48 -14 L95 -14 L95 20 L56 16Z" fill="#808080" filter="url(#b4)" opacity="0.95"/><ellipse cx="65" cy="0" rx="9" ry="14" fill="#666666" filter="url(#b4)" opacity="0.95"/></g><ellipse cx="58" cy="50" rx="3" ry="14" fill="#d6d6d6" filter="url(#b3)" opacity="0.8"/><ellipse cx="147" cy="2" rx="16" ry="20" fill="#a8a8a8" filter="url(#b6)" opacity="0.8"/><clipPath id="dclipR"><rect x="125" y="-20" width="100" height="200"/></clipPath><g clip-path="url(#dclipR)"><ellipse cx="130" cy="8" rx="7" ry="27" fill="#737373" filter="url(#b3_5)"/><ellipse cx="135" cy="2" rx="3.8" ry="15" fill="#0d0d0d" filter="url(#b2_3)"/></g><ellipse cx="137" cy="60" rx="5" ry="30" fill="#dedede" filter="url(#b4)" opacity="0.8"/><ellipse cx="137.5" cy="39" rx="4" ry="13" fill="#ffffff" filter="url(#b3)"/>
</g></g></g>
<path d="M29.4 219V366.5" fill="none" stroke="#262626" stroke-width="0.6" stroke-opacity="0.3"/>
<rect x="219" y="219" width="10" height="147.5" fill="url(#cbd)"/>
<rect x="219.25" y="219.25" width="9.5" height="147.0" fill="none" stroke="#262626" stroke-width="0.5" stroke-opacity="0.35"/>
<text x="120.0" y="205.4" font-family="Liberation Sans, sans-serif" font-size="8.8" font-weight="bold" text-anchor="middle" fill="#000">(d) Optical Force</text>
<text x="120.0" y="391.0" font-family="Liberation Sans, sans-serif" font-size="9" text-anchor="middle" fill="#262626">Downtrack (nm)</text>
<text x="59.3" y="379.3" font-family="Liberation Sans, sans-serif" font-size="8.7" text-anchor="middle" fill="#262626">-60</text>
<text x="109.9" y="379.3" font-family="Liberation Sans, sans-serif" font-size="8.7" text-anchor="middle" fill="#262626">-40</text>
<text x="160.4" y="379.3" font-family="Liberation Sans, sans-serif" font-size="8.7" text-anchor="middle" fill="#262626">-20</text>
<text x="211.0" y="379.3" font-family="Liberation Sans, sans-serif" font-size="8.7" text-anchor="middle" fill="#262626">0</text>
<text x="26" y="223.2" font-family="Liberation Sans, sans-serif" font-size="8.7" text-anchor="end" fill="#262626">8</text>
<text x="26" y="260.1" font-family="Liberation Sans, sans-serif" font-size="8.7" text-anchor="end" fill="#262626">6</text>
<text x="26" y="296.9" font-family="Liberation Sans, sans-serif" font-size="8.7" text-anchor="end" fill="#262626">4</text>
<text x="26" y="333.8" font-family="Liberation Sans, sans-serif" font-size="8.7" text-anchor="end" fill="#262626">2</text>
<text x="26" y="370.7" font-family="Liberation Sans, sans-serif" font-size="8.7" text-anchor="end" fill="#262626">0</text>
<text x="232.3" y="235.3" font-family="Liberation Sans, sans-serif" font-size="8.7" fill="#262626">50</text>
<path d="M227.2 231.4H229" stroke="#262626" stroke-width="0.6" stroke-opacity="0.7"/>
<text x="232.3" y="296.6" font-family="Liberation Sans, sans-serif" font-size="8.7" fill="#262626">0</text>
<path d="M227.2 292.75H229" stroke="#262626" stroke-width="0.6" stroke-opacity="0.7"/>
<text x="232.3" y="358.0" font-family="Liberation Sans, sans-serif" font-size="8.7" fill="#262626">-50</text>
<path d="M227.2 354.1H229" stroke="#262626" stroke-width="0.6" stroke-opacity="0.7"/>
<text transform="translate(17.5 292.75) rotate(-90)" font-family="Liberation Sans, sans-serif" font-size="9" text-anchor="middle" fill="#262626">Head Disk interface (nm)</text>
<text transform="translate(255.8 292.75) rotate(-90)" font-family="Liberation Sans, sans-serif" font-size="9" text-anchor="middle" fill="#262626">Force (fN)</text>
<rect x="80.5" y="207.8" width="85.9" height="11.5" fill="#d2d2d2" stroke="#555" stroke-width="0.8" stroke-dasharray="3 2"/><text x="123.45" y="218.5" font-family="Liberation Sans, sans-serif" font-size="9" text-anchor="middle" fill="#1a1a1a">NFT</text>
<path d="M31.5 359.7H63.8" stroke="#000" stroke-width="1.2" fill="none"/>
<path d="M29.6 359.7l6.3 -2.6l-1.7 2.6l1.7 2.6z" fill="#000"/>
<path d="M174 359.7H205.5" stroke="#000" stroke-width="1.2" fill="none"/>
<path d="M207.1 359.7l-6.3 -2.6l1.7 2.6l-1.7 2.6z" fill="#000"/>
<text x="63.8" y="364.09999999999997" font-family="Liberation Sans, sans-serif" font-size="9" fill="#000">Leading dir</text>
<text x="133.2" y="364.09999999999997" font-family="Liberation Sans, sans-serif" font-size="9" fill="#000">Trailing dir</text>
<filter id="cme" filterUnits="userSpaceOnUse" x="292" y="218" width="185" height="151" color-interpolation-filters="sRGB"><feComponentTransfer><feFuncR type="table" tableValues="0.2422 0.2504 0.2578 0.2647 0.2706 0.2751 0.2783 0.2803 0.2813 0.2810 0.2795 0.2760 0.2699 0.2602 0.2440 0.2206 0.1963 0.1834 0.1786 0.1764 0.1687 0.1540 0.1460 0.1380 0.1248 0.1113 0.0952 0.0689 0.0297 0.0036 0.0067 0.0433 0.0964 0.1408 0.1717 0.1938 0.2161 0.2470 0.2906 0.3406 0.3909 0.4456 0.5044 0.5616 0.6174 0.6720 0.7242 0.7738 0.8203 0.8634 0.9035 0.9393 0.9728 0.9956 0.9970 0.9952 0.9892 0.9786 0.9676 0.9610 0.9597 0.9628 0.9691 0.9769"/><feFuncG type="table" tableValues="0.1504 0.1650 0.1818 0.1978 0.2147 0.2342 0.2559 0.2782 0.3006 0.3228 0.3447 0.3667 0.3892 0.4123 0.4358 0.4603 0.4847 0.5074 0.5289 0.5499 0.5703 0.5902 0.6091 0.6276 0.6459 0.6635 0.6798 0.6948 0.7082 0.7203 0.7312 0.7411 0.7500 0.7584 0.7670 0.7758 0.7843 0.7918 0.7973 0.8008 0.8029 0.8024 0.7993 0.7942 0.7876 0.7793 0.7698 0.7598 0.7498 0.7406 0.7330 0.7288 0.7298 0.7434 0.7659 0.7893 0.8136 0.8386 0.8639 0.8890 0.9135 0.9373 0.9606 0.9839"/><feFuncB type="table" tableValues="0.6603 0.7076 0.7511 0.7952 0.8364 0.8710 0.8991 0.9221 0.9414 0.9579 0.9717 0.9829 0.9906 0.9952 0.9988 0.9973 0.9892 0.9798 0.9682 0.9520 0.9359 0.9218 0.9079 0.8973 0.8883 0.8763 0.8598 0.8394 0.8163 0.7917 0.7660 0.7394 0.7120 0.6842 0.6554 0.6251 0.5923 0.5567 0.5188 0.4789 0.4354 0.3909 0.3480 0.3045 0.2612 0.2227 0.1910 0.1646 0.1535 0.1596 0.1774 0.2100 0.2394 0.2371 0.2199 0.2028 0.1885 0.1766 0.1643 0.1537 0.1423 0.1265 0.1064 0.0805"/></feComponentTransfer></filter>
<clipPath id="cpe"><rect x="293.75" y="219" width="182" height="147.5"/></clipPath>
<g clip-path="url(#cpe)"><g filter="url(#cme)">
<g transform="translate(293.75 219)">
<rect x="-20" y="-20" width="230" height="200" fill="#8f8f8f"/><linearGradient id="lg2" x1="0" y1="0" x2="0" y2="1"><stop offset="0" stop-color="#bbbbbb"/><stop offset="0.5" stop-color="#b8b8b8"/><stop offset="0.8" stop-color="#adadad"/><stop offset="1" stop-color="#a1a1a1"/></linearGradient><path d="M54 -20 L126 -20 L121 90 L108 175 L58 175Z" fill="url(#lg2)" filter="url(#b6)"/><linearGradient id="efade" x1="0" y1="0" x2="0" y2="1"><stop offset="0" stop-color="#fff"/><stop offset="0.3" stop-color="#fff"/><stop offset="0.62" stop-color="#000"/></linearGradient><mask id="emask" maskUnits="userSpaceOnUse" x="-20" y="-20" width="230" height="200"><rect x="-20" y="0" width="230" height="148" fill="url(#efade)"/></mask><g mask="url(#emask)"><path d="M49.5 -10 L130.5 -10 L130 20 L125 75 L118 130 L54 130 L50.5 60Z" fill="url(#lg2)" filter="url(#b2)"/></g><ellipse cx="112" cy="130" rx="10" ry="40" fill="#9e9e9e" filter="url(#b6)" opacity="0.7"/><ellipse cx="25" cy="30" rx="12" ry="70" fill="#b5b5b5" filter="url(#b5)" opacity="0.95"/><clipPath id="eclip"><rect x="49" y="-20" width="200" height="200"/></clipPath><g clip-path="url(#eclip)"><ellipse cx="80" cy="6" rx="30" ry="46" fill="#cccccc" filter="url(#b10)" opacity="0.7"/><ellipse cx="72" cy="10" rx="22" ry="46" fill="#dddddd" filter="url(#b9)" opacity="0.95"/><ellipse cx="65" cy="-4" rx="13" ry="26" fill="#f5f5f5" filter="url(#b5)" opacity="0.95"/><ellipse cx="61" cy="-4" rx="7" ry="14" fill="#ffffff" filter="url(#b3)" opacity="0.9"/></g><ellipse cx="129" cy="22" rx="1.3" ry="32" fill="#cccccc" filter="url(#b1_2)" opacity="0.7"/><ellipse cx="134.5" cy="6" rx="3.5" ry="24" fill="#757575" filter="url(#b2_5)" opacity="0.8"/><ellipse cx="152" cy="0" rx="6" ry="40" fill="#999999" filter="url(#b4)" opacity="0.6"/><ellipse cx="160" cy="105" rx="20" ry="55" fill="#757575" filter="url(#b10)" opacity="0.95"/><ellipse cx="140" cy="150" rx="20" ry="25" fill="#808080" filter="url(#b8)" opacity="0.7"/><ellipse cx="30" cy="125" rx="16" ry="32" fill="#808080" filter="url(#b8)" opacity="0.9"/><ellipse cx="2" cy="125" rx="6" ry="25" fill="#adadad" filter="url(#b4)" opacity="0.8"/><ellipse cx="5" cy="18" rx="7" ry="34" fill="#6b6b6b" filter="url(#b3_5)" opacity="0.9"/><rect x="-6" y="-10" width="11" height="54" fill="#1f1f1f" filter="url(#b2)"/><ellipse cx="-1" cy="78" rx="6" ry="19" fill="#ebebeb" filter="url(#b3_5)"/><rect x="173" y="-10" width="12" height="170" fill="#666666" filter="url(#b3)" opacity="0.8"/><rect x="179.3" y="-10" width="8" height="170" fill="#2b2b2b" filter="url(#b1)"/><rect x="178.5" y="-10" width="8" height="60" fill="#141414" filter="url(#b1_5)" opacity="0.9"/>
</g></g></g>
<path d="M294.15 219V366.5" fill="none" stroke="#262626" stroke-width="0.6" stroke-opacity="0.3"/>
<rect x="483.3" y="219" width="10" height="147.5" fill="url(#cbe)"/>
<rect x="483.55" y="219.25" width="9.5" height="147.0" fill="none" stroke="#262626" stroke-width="0.5" stroke-opacity="0.35"/>
<text x="384.75" y="205.4" font-family="Liberation Sans, sans-serif" font-size="8.8" font-weight="bold" text-anchor="middle" fill="#000">(e) Thermophoresis Force</text>
<text x="384.75" y="391.0" font-family="Liberation Sans, sans-serif" font-size="9" text-anchor="middle" fill="#262626">Downtrack (nm)</text>
<text x="324.1" y="379.3" font-family="Liberation Sans, sans-serif" font-size="8.7" text-anchor="middle" fill="#262626">-60</text>
<text x="374.6" y="379.3" font-family="Liberation Sans, sans-serif" font-size="8.7" text-anchor="middle" fill="#262626">-40</text>
<text x="425.2" y="379.3" font-family="Liberation Sans, sans-serif" font-size="8.7" text-anchor="middle" fill="#262626">-20</text>
<text x="475.8" y="379.3" font-family="Liberation Sans, sans-serif" font-size="8.7" text-anchor="middle" fill="#262626">0</text>
<text x="290.75" y="223.2" font-family="Liberation Sans, sans-serif" font-size="8.7" text-anchor="end" fill="#262626">8</text>
<text x="290.75" y="260.1" font-family="Liberation Sans, sans-serif" font-size="8.7" text-anchor="end" fill="#262626">6</text>
<text x="290.75" y="296.9" font-family="Liberation Sans, sans-serif" font-size="8.7" text-anchor="end" fill="#262626">4</text>
<text x="290.75" y="333.8" font-family="Liberation Sans, sans-serif" font-size="8.7" text-anchor="end" fill="#262626">2</text>
<text x="290.75" y="370.7" font-family="Liberation Sans, sans-serif" font-size="8.7" text-anchor="end" fill="#262626">0</text>
<text x="496.6" y="226.9" font-family="Liberation Sans, sans-serif" font-size="8.7" fill="#262626">400</text>
<path d="M491.5 223.0H493.3" stroke="#262626" stroke-width="0.6" stroke-opacity="0.7"/>
<text x="496.6" y="261.8" font-family="Liberation Sans, sans-serif" font-size="8.7" fill="#262626">200</text>
<path d="M491.5 257.9H493.3" stroke="#262626" stroke-width="0.6" stroke-opacity="0.7"/>
<text x="496.6" y="296.6" font-family="Liberation Sans, sans-serif" font-size="8.7" fill="#262626">0</text>
<path d="M491.5 292.75H493.3" stroke="#262626" stroke-width="0.6" stroke-opacity="0.7"/>
<text x="496.6" y="331.5" font-family="Liberation Sans, sans-serif" font-size="8.7" fill="#262626">-200</text>
<path d="M491.5 327.6H493.3" stroke="#262626" stroke-width="0.6" stroke-opacity="0.7"/>
<text x="496.6" y="366.4" font-family="Liberation Sans, sans-serif" font-size="8.7" fill="#262626">-400</text>
<path d="M491.5 362.5H493.3" stroke="#262626" stroke-width="0.6" stroke-opacity="0.7"/>
<text transform="translate(282 292.75) rotate(-90)" font-family="Liberation Sans, sans-serif" font-size="9" text-anchor="middle" fill="#262626">Head Disk interface (nm)</text>
<text transform="translate(525.7 292.75) rotate(-90)" font-family="Liberation Sans, sans-serif" font-size="9" text-anchor="middle" fill="#262626">Force (fN)</text>
<rect x="345.25" y="207.8" width="85.89999999999998" height="11.5" fill="#d2d2d2" stroke="#555" stroke-width="0.8" stroke-dasharray="3 2"/><text x="388.2" y="218.5" font-family="Liberation Sans, sans-serif" font-size="9" text-anchor="middle" fill="#1a1a1a">NFT</text>
<path d="M296.25 359.7H328.55" stroke="#000" stroke-width="1.2" fill="none"/>
<path d="M294.35 359.7l6.3 -2.6l-1.7 2.6l1.7 2.6z" fill="#000"/>
<path d="M438.75 359.7H470.25" stroke="#000" stroke-width="1.2" fill="none"/>
<path d="M471.85 359.7l-6.3 -2.6l1.7 2.6l-1.7 2.6z" fill="#000"/>
<text x="328.55" y="364.09999999999997" font-family="Liberation Sans, sans-serif" font-size="9" fill="#000">Leading dir</text>
<text x="397.95" y="364.09999999999997" font-family="Liberation Sans, sans-serif" font-size="9" fill="#000">Trailing dir</text>
</g>
<defs>
<filter id="b1" filterUnits="userSpaceOnUse" x="-150" y="-150" width="500" height="500" color-interpolation-filters="sRGB"><feGaussianBlur stdDeviation="1"/></filter>
<filter id="b1_2" filterUnits="userSpaceOnUse" x="-150" y="-150" width="500" height="500" color-interpolation-filters="sRGB"><feGaussianBlur stdDeviation="1.2"/></filter>
<filter id="b1_5" filterUnits="userSpaceOnUse" x="-150" y="-150" width="500" height="500" color-interpolation-filters="sRGB"><feGaussianBlur stdDeviation="1.5"/></filter>
<filter id="b1_8" filterUnits="userSpaceOnUse" x="-150" y="-150" width="500" height="500" color-interpolation-filters="sRGB"><feGaussianBlur stdDeviation="1.8"/></filter>
<filter id="b2" filterUnits="userSpaceOnUse" x="-150" y="-150" width="500" height="500" color-interpolation-filters="sRGB"><feGaussianBlur stdDeviation="2"/></filter>
<filter id="b2_3" filterUnits="userSpaceOnUse" x="-150" y="-150" width="500" height="500" color-interpolation-filters="sRGB"><feGaussianBlur stdDeviation="2.3"/></filter>
<filter id="b2_5" filterUnits="userSpaceOnUse" x="-150" y="-150" width="500" height="500" color-interpolation-filters="sRGB"><feGaussianBlur stdDeviation="2.5"/></filter>
<filter id="b3" filterUnits="userSpaceOnUse" x="-150" y="-150" width="500" height="500" color-interpolation-filters="sRGB"><feGaussianBlur stdDeviation="3"/></filter>
<filter id="b3_5" filterUnits="userSpaceOnUse" x="-150" y="-150" width="500" height="500" color-interpolation-filters="sRGB"><feGaussianBlur stdDeviation="3.5"/></filter>
<filter id="b4" filterUnits="userSpaceOnUse" x="-150" y="-150" width="500" height="500" color-interpolation-filters="sRGB"><feGaussianBlur stdDeviation="4"/></filter>
<filter id="b4_5" filterUnits="userSpaceOnUse" x="-150" y="-150" width="500" height="500" color-interpolation-filters="sRGB"><feGaussianBlur stdDeviation="4.5"/></filter>
<filter id="b5" filterUnits="userSpaceOnUse" x="-150" y="-150" width="500" height="500" color-interpolation-filters="sRGB"><feGaussianBlur stdDeviation="5"/></filter>
<filter id="b6" filterUnits="userSpaceOnUse" x="-150" y="-150" width="500" height="500" color-interpolation-filters="sRGB"><feGaussianBlur stdDeviation="6"/></filter>
<filter id="b7" filterUnits="userSpaceOnUse" x="-150" y="-150" width="500" height="500" color-interpolation-filters="sRGB"><feGaussianBlur stdDeviation="7"/></filter>
<filter id="b8" filterUnits="userSpaceOnUse" x="-150" y="-150" width="500" height="500" color-interpolation-filters="sRGB"><feGaussianBlur stdDeviation="8"/></filter>
<filter id="b9" filterUnits="userSpaceOnUse" x="-150" y="-150" width="500" height="500" color-interpolation-filters="sRGB"><feGaussianBlur stdDeviation="9"/></filter>
<filter id="b10" filterUnits="userSpaceOnUse" x="-150" y="-150" width="500" height="500" color-interpolation-filters="sRGB"><feGaussianBlur stdDeviation="10"/></filter>
</defs>
</svg>
</body></html>
